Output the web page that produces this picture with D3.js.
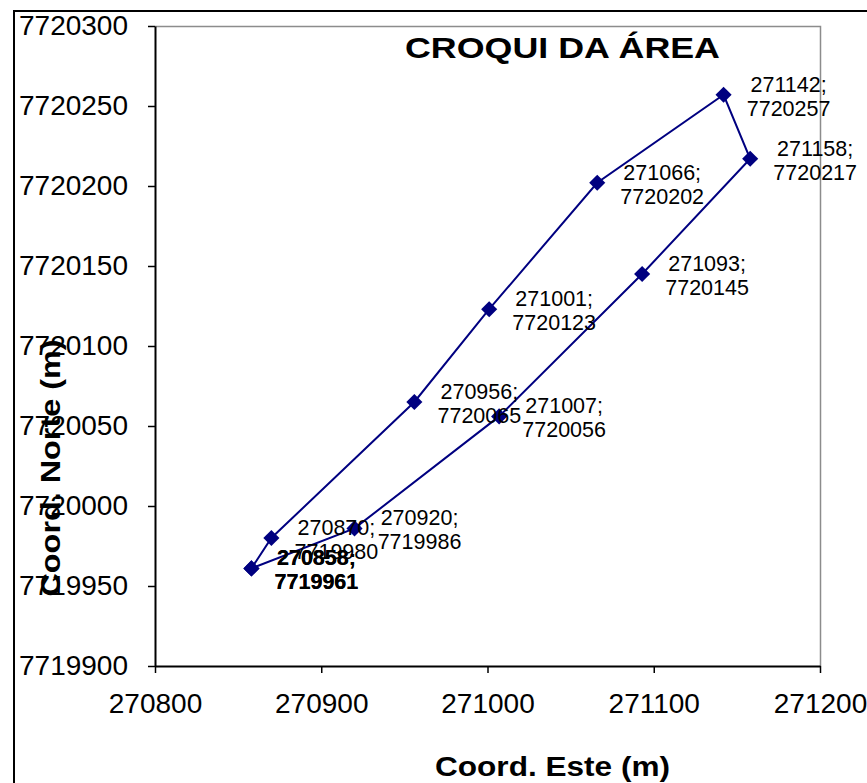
<!DOCTYPE html>
<html>
<head>
<meta charset="utf-8">
<script src="https://cdn.jsdelivr.net/npm/d3@7"></script>
<style>
  body { margin: 0; background: #fff; }
  svg { display: block; font-family: "Liberation Sans", Arial, sans-serif; }
</style>
</head>
<body>
<script>
// polygon vertices (Coord. Este / Coord. Norte), closed back to the first point
var east  = [270858, 270870, 270956, 271001, 271066, 271142, 271158, 271093, 271007, 270920, 270858];
var north = [7719961, 7719980, 7720065, 7720123, 7720202, 7720257, 7720217, 7720145, 7720056, 7719986, 7719961];

var xTicks = [270800, 270900, 271000, 271100, 271200];
var yTicks = [7719900, 7719950, 7720000, 7720050, 7720100, 7720150, 7720200, 7720250, 7720300];

var title = "CROQUI DA ÁREA";
var xTitle = "Coord. Este (m)";
var yTitle = "Coord. Norte (m)";

var width = 867, height = 783;
var plot = {left: 155, right: 820, top: 26, bottom: 666};

var svg = d3.select("body").append("svg")
    .attr("width", width)
    .attr("height", height);

// chart frame (runs off the picture on the right and bottom)
svg.append("rect")
    .attr("x", 14).attr("y", 11)
    .attr("width", 900).attr("height", 900)
    .attr("fill", "#fff")
    .attr("stroke", "#000")
    .attr("stroke-width", 2);

var xScale = d3.scaleLinear().domain([xTicks[0], xTicks[xTicks.length - 1]]).range([plot.left, plot.right]);
var yScale = d3.scaleLinear().domain([yTicks[0], yTicks[yTicks.length - 1]]).range([plot.bottom, plot.top]);

// plot area border (grey top / right)
svg.append("path")
    .attr("d", "M" + plot.left + "," + (plot.top + 0.5) + "H" + (plot.right + 0.5) + "V" + plot.bottom)
    .attr("fill", "none")
    .attr("stroke", "#8c8c8c")
    .attr("stroke-width", 1.5);

var xAxis = d3.axisBottom(xScale).tickValues(xTicks).tickFormat(d3.format("d"))
    .tickSize(7).tickSizeOuter(0).tickPadding(20);
var yAxis = d3.axisLeft(yScale).tickValues(yTicks).tickFormat(d3.format("d"))
    .tickSize(7).tickSizeOuter(0).tickPadding(20);

var gx = svg.append("g")
    .attr("transform", "translate(0," + plot.bottom + ")")
    .call(xAxis);
var gy = svg.append("g")
    .attr("transform", "translate(" + plot.left + ",0)")
    .call(yAxis);

[gx, gy].forEach(function(g) {
    g.select(".domain").attr("stroke", "#000").attr("stroke-width", 2);
    g.selectAll(".tick line").attr("stroke", "#000").attr("stroke-width", 1.5);
    g.selectAll(".tick text")
        .attr("fill", "#000")
        .style("font-family", "'Liberation Sans', Arial, sans-serif")
        .style("font-size", "28px");
});

// polygon line
var pts = east.map(function(e, i) { return {x: e, y: north[i], i: i}; });

var line = d3.line()
    .x(function(d) { return xScale(d.x); })
    .y(function(d) { return yScale(d.y); });

svg.append("path")
    .datum(pts)
    .attr("d", line)
    .attr("fill", "none")
    .attr("stroke", "#000080")
    .attr("stroke-width", 2);

// diamond markers
svg.selectAll(".marker")
    .data(pts)
    .enter().append("path")
    .attr("class", "marker")
    .attr("d", d3.symbol().type(d3.symbolSquare).size(130))
    .attr("transform", function(d) {
        return "translate(" + xScale(d.x) + "," + yScale(d.y) + ") rotate(45)";
    })
    .attr("fill", "#000080");

// data labels "east;" / "north" (the closing point repeats the first, so it prints darker)
var labels = svg.selectAll(".lbl")
    .data(pts)
    .enter().append("text")
    .attr("class", "lbl")
    .attr("text-anchor", "middle")
    .style("font-size", "21.5px")
    .style("font-weight", function(d) {
        return pts.some(function(p) { return p.i !== d.i && p.x === d.x && p.y === d.y; }) ? "bold" : "normal";
    })
    .attr("fill", "#000");

labels.append("tspan")
    .attr("x", function(d) { return xScale(d.x) + 65; })
    .attr("y", function(d) { return yScale(d.y) - 3; })
    .text(function(d) { return d.x + ";"; });
labels.append("tspan")
    .attr("x", function(d) { return xScale(d.x) + 65; })
    .attr("y", function(d) { return yScale(d.y) + 21; })
    .text(function(d) { return d.y; });

// chart title
svg.append("text")
    .attr("x", 562.5)
    .attr("y", 58)
    .attr("text-anchor", "middle")
    .attr("textLength", 315)
    .attr("lengthAdjust", "spacingAndGlyphs")
    .style("font-size", "30px")
    .style("font-weight", "bold")
    .text(title);

// x axis title
svg.append("text")
    .attr("x", 552.5)
    .attr("y", 776)
    .attr("text-anchor", "middle")
    .attr("textLength", 235)
    .attr("lengthAdjust", "spacingAndGlyphs")
    .style("font-size", "28px")
    .style("font-weight", "bold")
    .text(xTitle);

// y axis title
svg.append("text")
    .attr("transform", "translate(60,468) rotate(-90)")
    .attr("text-anchor", "middle")
    .attr("textLength", 257)
    .attr("lengthAdjust", "spacingAndGlyphs")
    .style("font-size", "28px")
    .style("font-weight", "bold")
    .text(yTitle);
</script>
</body>
</html>
